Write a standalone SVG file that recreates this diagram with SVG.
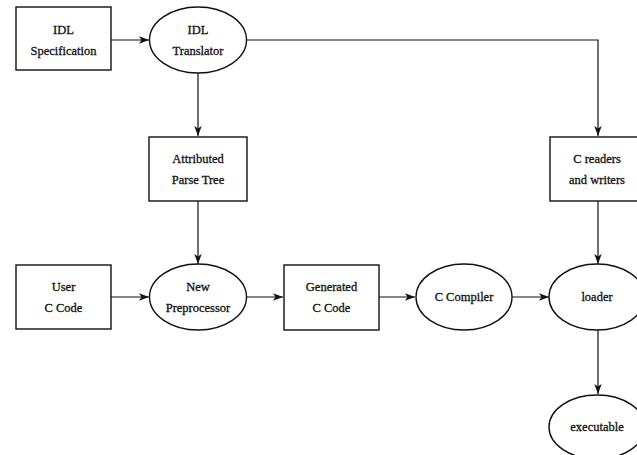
<svg xmlns="http://www.w3.org/2000/svg" width="637" height="455" viewBox="0 0 637 455">
<defs>
<marker id="ah" markerWidth="11" markerHeight="9" refX="10" refY="4.5" orient="auto" markerUnits="userSpaceOnUse">
<path d="M0,0.8 L10,4.5 L0,8.2 L2.5,4.5 Z" fill="#111"/>
</marker>
<style>
.n{fill:#fff;stroke:#111;stroke-width:1.4}
.t{font-family:"Liberation Serif","DejaVu Serif",serif;font-size:12.5px;fill:#111;stroke:#111;stroke-width:0.3;text-anchor:middle}
.c{fill:none;stroke:#111;stroke-width:1.2;marker-end:url(#ah)}
</style>
</defs>
<rect width="637" height="455" fill="#fff"/>
<g id="connectors">
<path class="c" d="M111,40 L149,40"/>
<path class="c" d="M247,40 L598,40 L598,136"/>
<path class="c" d="M198,73 L198,136"/>
<path class="c" d="M198,201 L198,264"/>
<path class="c" d="M111,297 L149,297"/>
<path class="c" d="M247,297 L283,297"/>
<path class="c" d="M379,297 L415,297"/>
<path class="c" d="M512,297 L549,297"/>
<path class="c" d="M598,201 L598,264"/>
<path class="c" d="M598,330 L598,394"/>
</g>
<g id="idl-spec">
<rect class="n" x="16" y="7" width="95" height="63"/>
<text class="t" x="63.5" y="34">IDL</text>
<text class="t" x="63.5" y="55">Specification</text>
</g>
<g id="idl-translator">
<ellipse class="n" cx="198" cy="40" rx="48.5" ry="33"/>
<text class="t" x="198" y="34">IDL</text>
<text class="t" x="198" y="55">Translator</text>
</g>
<g id="parse-tree">
<rect class="n" x="149" y="137" width="98" height="64"/>
<text class="t" x="198" y="163">Attributed</text>
<text class="t" x="198" y="184">Parse Tree</text>
</g>
<g id="c-readers">
<rect class="n" x="550" y="137" width="96" height="64"/>
<text class="t" x="597" y="163">C readers</text>
<text class="t" x="597" y="184">and writers</text>
</g>
<g id="user-code">
<rect class="n" x="16" y="265" width="95" height="64"/>
<text class="t" x="63.5" y="291">User</text>
<text class="t" x="63.5" y="312">C Code</text>
</g>
<g id="new-preprocessor">
<ellipse class="n" cx="198" cy="297" rx="48.5" ry="33"/>
<text class="t" x="198" y="291">New</text>
<text class="t" x="198" y="312">Preprocessor</text>
</g>
<g id="generated-code">
<rect class="n" x="284" y="265" width="95" height="65"/>
<text class="t" x="331.5" y="291">Generated</text>
<text class="t" x="331.5" y="312">C Code</text>
</g>
<g id="c-compiler">
<ellipse class="n" cx="464" cy="297" rx="48" ry="33"/>
<text class="t" x="464" y="301">C Compiler</text>
</g>
<g id="loader">
<ellipse class="n" cx="597" cy="297" rx="48" ry="33"/>
<text class="t" x="597" y="301">loader</text>
</g>
<g id="executable">
<ellipse class="n" cx="597" cy="427" rx="48" ry="32"/>
<text class="t" x="597" y="431">executable</text>
</g>
</svg>
